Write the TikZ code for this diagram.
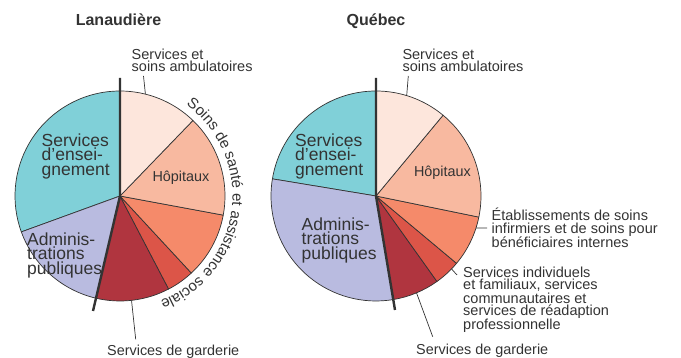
\documentclass[tikz,border=0pt]{standalone}
\usepackage{fontspec}
\setmainfont{Liberation Sans}
\usetikzlibrary{decorations.text,calc}
\definecolor{cteal}{RGB}{128,208,216}
\definecolor{clav}{RGB}{185,187,224}
\definecolor{camb}{RGB}{253,230,220}
\definecolor{chop}{RGB}{248,185,160}
\definecolor{cetab}{RGB}{245,138,106}
\definecolor{cind}{RGB}{220,85,72}
\definecolor{cgard}{RGB}{176,53,63}
\definecolor{cline}{RGB}{51,51,51}
\newcommand\pieslice[4]{\filldraw[slice, fill=#4] (#1) -- ++(#2:105) arc[start angle=#2, end angle=#3, radius=105] -- cycle;}
\begin{document}
\begin{tikzpicture}[x=1pt,y=1pt,
  slice/.style={draw=cline, line width=0.7pt, line join=round},
  sepline/.style={draw=cline, line width=2.4pt},
  lead/.style={draw=cline, line width=0.7pt},
  small/.style={font=\fontsize{14.5}{12.3}\selectfont, inner sep=0pt, align=left, anchor=north west, text=cline},
  big/.style={font=\fontsize{17.5}{14.5}\selectfont, inner sep=0pt, align=left, anchor=north west, text=cline},
  mid/.style={font=\fontsize{14.4}{14.4}\selectfont, inner sep=0pt, text=cline},
  titlef/.style={font=\fontsize{16}{16}\selectfont\bfseries, inner sep=0pt, text=cline}]
\useasboundingbox (0,0) rectangle (681,358);
% ---------- Lanaudiere ----------
\coordinate (L) at (120,162);
\pieslice{L}{90}{200}{cteal}
\pieslice{L}{200}{256.8}{clav}
\pieslice{L}{256.8}{297.6}{cgard}
\pieslice{L}{297.6}{312.8}{cind}
\pieslice{L}{312.8}{349.5}{cetab}
\pieslice{L}{349.5}{406}{chop}
\pieslice{L}{406}{450}{camb}
\coordinate (Ltop) at (120,280);
\coordinate (Lbot) at (93,47);
\draw[sepline] (Ltop) -- (L) -- (Lbot);
\node[titlef, anchor=base] (Ltitle) at (118.5,332) {Lanaudière};
\node[small] (Lamb) at (131.5,309.3) {Services et\\soins ambulatoires};
\coordinate (La) at ($(L)+(76:105)$);
\coordinate (Lat) at (143.5,282);
\draw[lead] (La) -- (Lat);
\node[big] (Lens) at (41.5,224.8) {Services\\d'ensei-\\gnement};
\node[big] (Ladm) at (27,125.5) {Adminis-\\trations\\publiques};
\node[mid, anchor=base] (Lhop) at (181,176) {Hôpitaux};
\node[mid, anchor=base west] (Lgar) at (107,2.5) {Services de garderie};
\coordinate (Lg) at ($(L)+(276.3:105)$);
\coordinate (Lgt) at (135.7,18.7);
\draw[lead] (Lg) -- (Lgt);
\path[decorate, decoration={text along path, text align=left,
  text={|\fontsize{15}{15}\selectfont\color{cline}|Soins de santé et assistance sociale}}]
  ($(L)+(54:112.5)$) arc[start angle=54, end angle=-85, radius=112.5];
% ---------- Quebec ----------
\coordinate (Q) at (376,162);
\pieslice{Q}{90}{170.6}{cteal}
\pieslice{Q}{170.6}{279.5}{clav}
\pieslice{Q}{279.5}{305.5}{cgard}
\pieslice{Q}{305.5}{320.1}{cind}
\pieslice{Q}{320.1}{348.4}{cetab}
\pieslice{Q}{348.4}{410.3}{chop}
\pieslice{Q}{410.3}{450}{camb}
\coordinate (Qtop) at (376,280);
\coordinate (Qbot) at (395,48);
\draw[sepline] (Qtop) -- (Q) -- (Qbot);
\node[titlef, anchor=base west] (Qtitle) at (346.5,332) {Québec};
\node[small] (Qamb) at (402.3,309.3) {Services et\\soins ambulatoires};
\coordinate (Qa) at ($(Q)+(73:105)$);
\coordinate (Qat) at (408.3,282);
\draw[lead] (Qa) -- (Qat);
\node[big] (Qens) at (295,224.8) {Services\\d'ensei-\\gnement};
\node[big] (Qadm) at (301.5,140.5) {Adminis-\\trations\\publiques};
\node[mid, anchor=base] (Qhop) at (442.5,181) {Hôpitaux};
\node[small] (Qetab) at (491.5,150) {Établissements de soins\\infirmiers et de soins pour\\bénéficiaires internes};
\coordinate (Qe) at ($(Q)+(-17.7:105)$);
\coordinate (Qet) at (487,130);
\draw[lead] (Qe) -- (Qet);
\node[small] (Qind) at (463,91.3) {Services individuels\\et familiaux, services\\communautaires et\\services de réadaption\\professionnelle};
\coordinate (Qi) at ($(Q)+(-44:105)$);
\coordinate (Qit) at (457,83);
\draw[lead] (Qi) -- (Qit);
\node[mid, anchor=base west] (Qgar) at (416,3) {Services de garderie};
\coordinate (Qg) at ($(Q)+(292.7:105)$);
\coordinate (Qgt) at (432.7,21.3);
\draw[lead] (Qg) -- (Qgt);
\end{tikzpicture}
\end{document}
